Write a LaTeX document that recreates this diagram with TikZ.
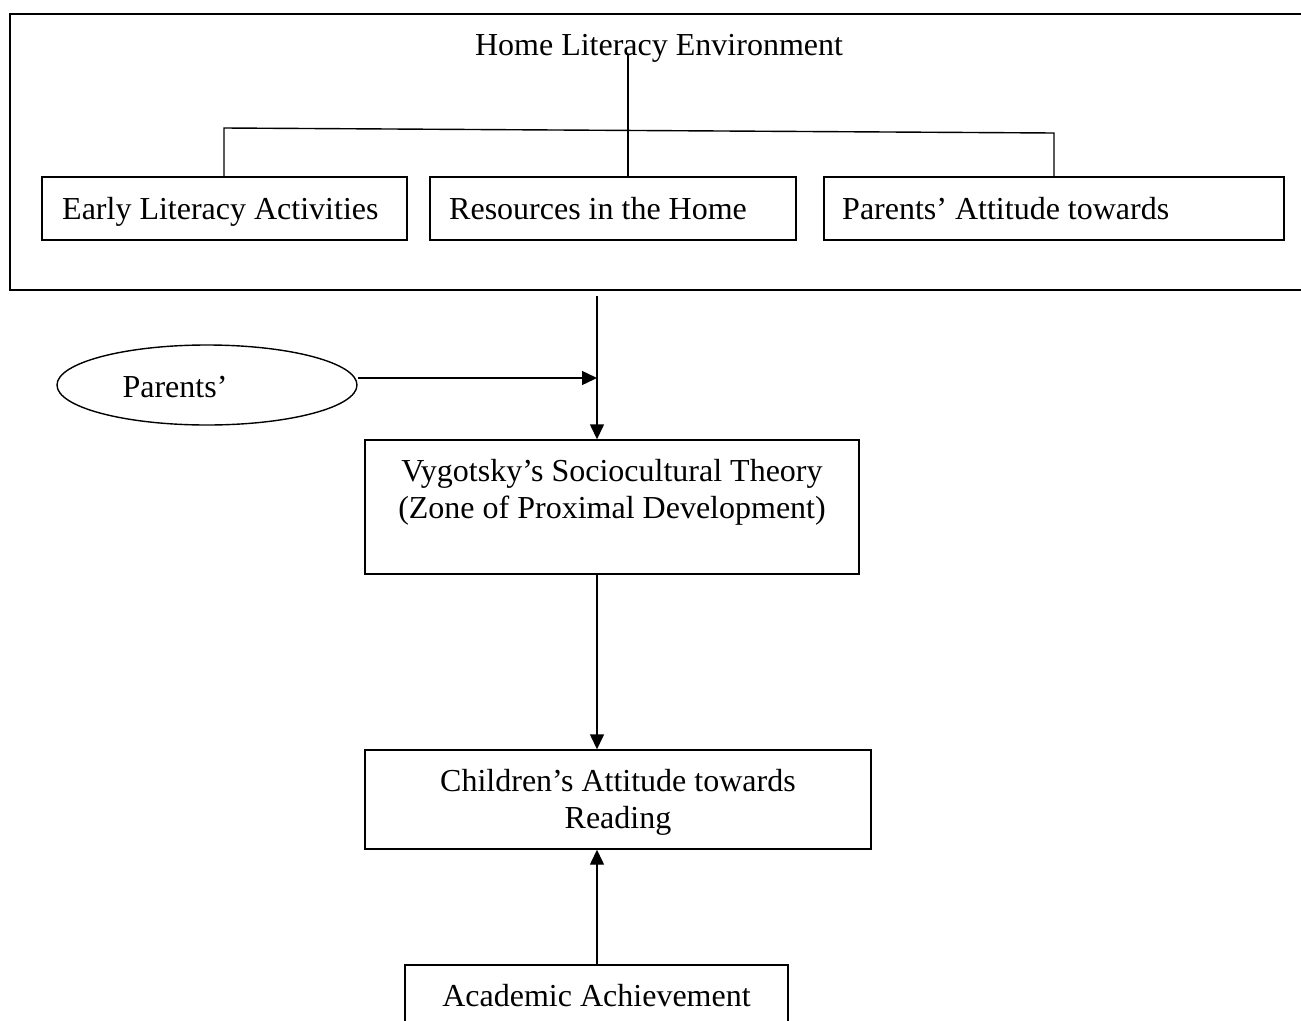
\documentclass[tikz,border=0pt]{standalone}
\usepackage{fontspec}
\setmainfont{Liberation Serif}
\usetikzlibrary{arrows.meta,shapes.geometric}
\begin{document}
\begin{tikzpicture}[x=1pt,y=-1pt,
  every node/.style={font=\fontsize{32}{37}\selectfont},
  box/.style={draw,line width=1.4pt,rectangle,inner sep=0pt},
  txt/.style={inner sep=0pt,align=center},
  conn/.style={line width=1.4pt},
  arr/.style={conn,-{Triangle[length=15pt,width=14pt]}}]
\useasboundingbox (0,0) rectangle (1301,1020);
% outer frame
\node[box,minimum width=1310,minimum height=276] (hle) at (665,152) {};
\node[txt,anchor=base] (title) at (659,55) {Home Literacy Environment};
% three boxes
\node[box,minimum width=365,minimum height=63] (ela) at (224.5,208.5) {};
\node[txt,anchor=base west] (elat) at (62,219) {Early Literacy Activities};
\node[box,minimum width=366,minimum height=63] (res) at (613,208.5) {};
\node[txt,anchor=base west] (rest) at (449,219) {Resources in the Home};
\node[box,minimum width=460,minimum height=63] (pat) at (1054,208.5) {};
\node[txt,anchor=base west] (patt) at (842,219) {Parents’ Attitude towards};
% tree connectors
\coordinate (tstart) at (628,55);
\coordinate (hl) at (224,128);
\coordinate (hr) at (1054,133);
\draw[conn] (tstart) -- (tstart |- res.north);
\draw[conn] (hl |- ela.north) -- (hl) -- (hr) -- (hr |- pat.north);
% ellipse
\node[draw,line width=1.4pt,ellipse,minimum width=300,minimum height=80,inner sep=0pt] (par) at (207,385) {};
\node[txt,anchor=base] (part) at (175,397) {Parents’};
% Vygotsky box
\node[box,minimum width=494,minimum height=134] (vyg) at (612,507) {};
\node[txt] (vygt) at (612,492) {Vygotsky’s Sociocultural Theory\\(Zone of Proximal Development)};
% Children box
\node[box,minimum width=506,minimum height=99] (chi) at (618,799.5) {};
\node[txt] (chit) at (618,802) {Children’s Attitude towards\\Reading};
% Academic box
\node[box,minimum width=383,minimum height=62] (aca) at (596.5,996) {};
\node[txt,anchor=base] (acat) at (596.5,1006) {Academic Achievement};
% arrows
\coordinate (topin) at (597,296);
\coordinate (junc) at (597,378);
\draw[arr] (topin) -- (topin |- vyg.north);
\draw[arr] ([yshift=7pt]par.east) -- (junc);
\draw[arr] (topin |- vyg.south) -- (topin |- chi.north);
\draw[arr] (topin |- aca.north) -- (topin |- chi.south);
\end{tikzpicture}
\end{document}
